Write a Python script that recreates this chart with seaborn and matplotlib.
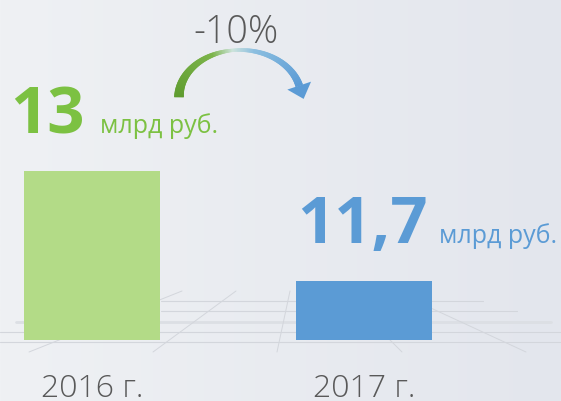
import numpy as np
import matplotlib
matplotlib.use("Agg")
import matplotlib.pyplot as plt
from matplotlib.collections import PolyCollection
from matplotlib.colors import to_rgb, LinearSegmentedColormap
from matplotlib.patches import Polygon
import seaborn as sns
import pandas as pd

# chart data
years = ["2016 г.", "2017 г."]
values = [13, 11.7]
value_labels = ["13", "11,7"]
unit = "млрд руб."
change_label = "-10%"
bar_colors = ["#b3db87", "#5b9bd5"]
text_colors = ["#7cc142", "#5b9bd5"]

sns.set_theme(style="white")
plt.rcParams['font.family'] = ['Open Sans', 'DejaVu Sans']

W, H = 561, 401
fig = plt.figure(figsize=(W / 100, H / 100), dpi=100)

# background gradient + floor lines (pixel coords)
bg = fig.add_axes([0, 0, 1, 1], zorder=0)
g = np.linspace(0, 1, 256)[None, :, None]
c0 = np.array(to_rgb("#eff1f4"))
c1 = np.array(to_rgb("#e3e6ed"))
bg.imshow(c0 * (1 - g) + c1 * g, extent=[0, W, H, 0], aspect='auto')
bg.set_xlim(0, W)
bg.set_ylim(H, 0)
bg.axis('off')

for x0, x1, y in [(161, 483, 301), (161, 517, 311), (0, 561, 332), (0, 561, 342)]:
    bg.plot([x0, x1], [y, y], color="#d3d6dc", lw=0.8)
bg.plot([16, 551], [322, 322], color="#dcdfe4", lw=2)
for x0, y0, x1, y1 in [(29, 352, 182, 291), (153, 352, 236, 291), (277, 352, 290, 291),
                       (402, 352, 341, 291), (526, 352, 394, 291)]:
    bg.plot([x0, x1], [y0, y1], color="#d3d6dc", lw=0.7)

# curved arrow
cmap = LinearSegmentedColormap.from_list(
    "arr", [(0, "#5f9c2f"), (0.38, "#7cb44a"), (0.5, "#cde4dc"), (0.62, "#8cbfe0"), (1, "#5b9bd5")])
th = np.radians(np.linspace(180, 14, 200))
cx, cy, rx, ry = 240, 97, 61, 47
px = cx + rx * np.cos(th)
py = cy - ry * np.sin(th)
tt = np.linspace(0, 1, len(th))
wid = np.interp(tt, [0, 0.5, 1], [9, 2.5, 7])
dx = np.gradient(px)
dy = np.gradient(py)
nl = np.hypot(dx, dy)
nx, ny = -dy / nl, dx / nl
ox, oy = px + nx * wid / 2, py + ny * wid / 2
ix, iy = px - nx * wid / 2, py - ny * wid / 2
quads = []
cols = []
for k in range(len(th) - 1):
    quads.append([(ox[k], oy[k]), (ox[k + 1], oy[k + 1]), (ix[k + 1], iy[k + 1]), (ix[k], iy[k])])
    cols.append(cmap(tt[k]))
bg.add_collection(PolyCollection(quads, facecolors=cols, edgecolors=cols, linewidths=0.5))
ux, uy = dx[-1] / nl[-1], dy[-1] / nl[-1]
bx, by = px[-1], py[-1]
head = [(bx + nx[-1] * 12.5, by + ny[-1] * 12.5), (bx - nx[-1] * 12.5, by - ny[-1] * 12.5),
        (bx + ux * 14, by + uy * 14)]
bg.add_patch(Polygon(head, closed=True, color="#5b9bd5", lw=0))
bg.text(236, 43, change_label, ha='center', va='baseline', fontsize=27,
        fontweight='light', color="#595959")

# bars
ax = fig.add_axes([0, 61 / H, 1, 340 / H], zorder=1)
ax.patch.set_alpha(0)
df = pd.DataFrame({"year": years, "value": values})
sns.barplot(data=df, x="year", y="value", hue="year", palette=bar_colors, width=0.5,
            saturation=1, legend=False, linewidth=0, ax=ax)
ax.set_xlim(-0.338, 1.724)
ax.set_ylim(11.0, 11.0 + 340 / 84.5)
ax.set_xlabel("")
ax.set_ylabel("")
ax.set_yticks([])
sns.despine(ax=ax, left=True, bottom=True)
ax.tick_params(axis='x', length=0, pad=24, labelsize=23, labelcolor="#595959")
for lab in ax.get_xticklabels():
    lab.set_fontweight('light')

# value labels
label_dx = [-82, -67]
unit_gap = [16, 11]
fig.canvas.draw()
for i, (v, lab) in enumerate(zip(values, value_labels)):
    t = ax.annotate(lab, (i, v), xytext=(label_dx[i], 38), textcoords='offset pixels',
                    ha='left', va='baseline', fontsize=47, fontweight='bold', color=text_colors[i])
    fig.canvas.draw()
    w = t.get_window_extent().width
    ax.annotate(unit, (i, v), xytext=(label_dx[i] + w + unit_gap[i], 38), textcoords='offset pixels',
                ha='left', va='baseline', fontsize=18, color=text_colors[i])

fig.savefig("out.png", dpi=100)
